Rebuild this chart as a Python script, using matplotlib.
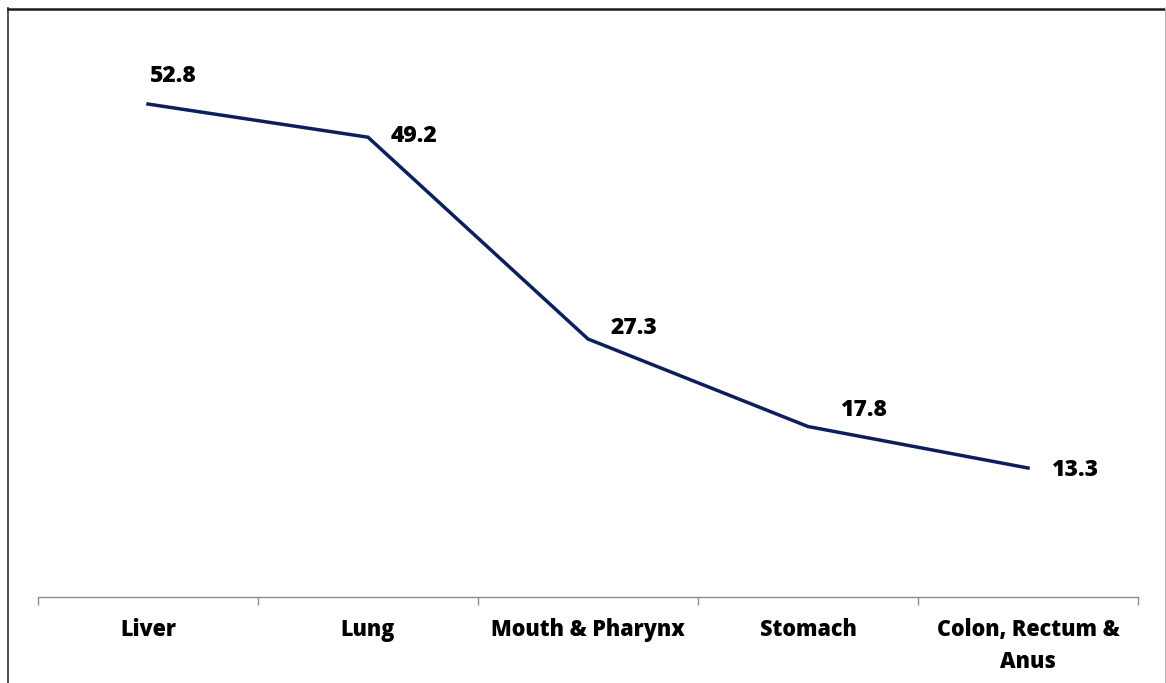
import matplotlib
matplotlib.use("Agg")
import matplotlib.pyplot as plt
from matplotlib.lines import Line2D

categories = ["Liver", "Lung", "Mouth & Pharynx", "Stomach", "Colon, Rectum &\nAnus"]
values = [52.8, 49.2, 27.3, 17.8, 13.3]
value_labels = ["52.8", "49.2", "27.3", "17.8", "13.3"]

W, H = 1166, 683
fig = plt.figure(figsize=(W / 100, H / 100), dpi=100)
plt.rcParams['font.family'] = ['Open Sans', 'DejaVu Sans']

# axes placement in pixels
left, right, bottom_px, top_px = 38, 1138, 597, 37.7
ax = fig.add_axes([left / W, (H - bottom_px) / H, (right - left) / W, (bottom_px - top_px) / H])
ax.set_xlim(-0.5, 4.5)
ax.set_ylim(-0.7, 60)

x = list(range(len(categories)))
ax.plot(x, values, color='#0c1f5c', lw=2.5, solid_joinstyle='miter', zorder=3)

# label offsets in pixels (dx, dy up)
offsets = [(25, 28), (46, 1), (46, 11), (55, 17), (47, -2)]
for xi, v, lab, (dx, dy) in zip(x, values, value_labels, offsets):
    ax.annotate(lab, (xi, v), xytext=(dx * 0.72, dy * 0.72), textcoords='offset points',
                ha='center', va='center', fontsize=16.5, fontweight='heavy', color='black')

for s in ['top', 'right', 'left']:
    ax.spines[s].set_visible(False)
ax.spines['bottom'].set_color('#8c8c8c')
ax.spines['bottom'].set_linewidth(1.0)
ax.set_yticks([])
ax.set_xticks(x)
ax.set_xticklabels(categories, fontsize=15.5, fontweight='heavy', linespacing=1.45)
ax.tick_params(axis='x', which='major', length=0, pad=15)
ax.set_xticks([i - 0.5 for i in range(len(categories) + 1)], minor=True)
ax.tick_params(axis='x', which='minor', length=5.5, width=1.0, color='#8c8c8c')

# outer border lines (figure pixel coords)
def fx(p): return p / W
def fy(p): return 1 - p / H
fig.add_artist(Line2D([fx(8), fx(8)], [fy(8), fy(700)], color='#404040', lw=1.3))
fig.add_artist(Line2D([fx(8), fx(1165.5)], [fy(8.5), fy(8.5)], color='#1a1a1a', lw=1.8))
fig.add_artist(Line2D([fx(1165.5), fx(1165.5)], [fy(8), fy(700)], color='#b0b0b0', lw=1.3))

fig.savefig('out.png', dpi=100)
